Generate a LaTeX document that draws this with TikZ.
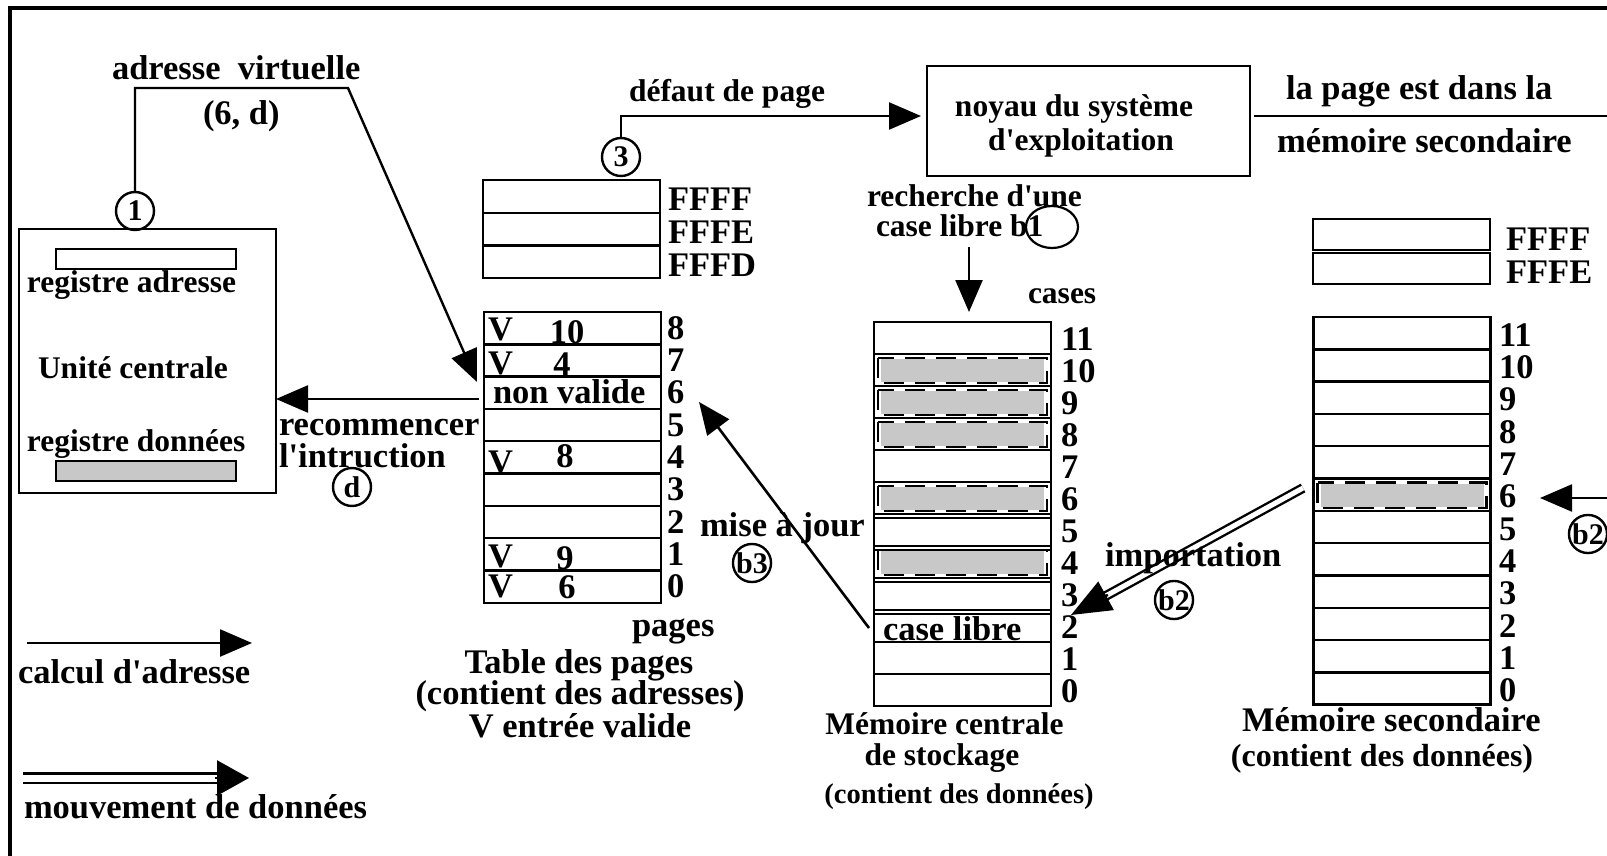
\documentclass[tikz,border=0pt]{standalone}
\usepackage{fontspec}
\setmainfont{Liberation Serif}[Ligatures=TeXOff]
\usetikzlibrary{arrows.meta,calc}

\begin{document}
\begin{tikzpicture}[x=1pt,y=-1pt,line width=2.4pt,
  txtL/.style={font=\fontsize{34.5}{36}\selectfont\bfseries,inner sep=0pt,outer sep=0pt,yshift=-3pt},
  txtM/.style={font=\fontsize{32}{34}\selectfont\bfseries,inner sep=0pt,outer sep=0pt,yshift=-3pt},
  txtS/.style={font=\fontsize{31.5}{33}\selectfont\bfseries,inner sep=0pt,outer sep=0pt,yshift=-3pt},
  txtT/.style={font=\fontsize{28.5}{30}\selectfont\bfseries,inner sep=0pt,outer sep=0pt,yshift=-3pt},
  cell/.style={draw,minimum width=177pt,minimum height=#1,inner sep=0pt,outer sep=0pt},
  cell/.default=32.3pt,
  boxed/.style={draw,inner sep=0pt,outer sep=0pt},
  tag/.style={draw,circle,minimum size=38pt,inner sep=0pt,outer sep=0pt,
    font=\fontsize{30}{30}\selectfont\bfseries},
  arr/.style={-{Triangle[length=32pt,width=27pt]}},
  bigarr/.style={-{Triangle[length=40pt,width=32pt]}},
  dbl/.style={double,double distance=5pt,line width=2.4pt},
  shade/.style={fill={rgb,255:red,200;green,200;blue,200},draw=none},
  dashbox/.style={dash pattern=on 20pt off 11pt,line width=2.4pt}]

\useasboundingbox (0,0) rectangle (1607,856);
\clip (0,0) rectangle (1607,856);

% outer frame, running past the right and bottom edges
\draw[line width=3.5pt] (10,8) rectangle (1660,920);

% ---------------- central processing unit ----------------
\node[boxed,minimum width=257pt,minimum height=264pt] (cpu) at (147.5,361) {};
\node[boxed,minimum width=180pt,minimum height=20pt] (rega) at (146,259) {};
\node[boxed,minimum width=180pt,minimum height=20pt,
  fill={rgb,255:red,200;green,200;blue,200}] (regd) at (146,471) {};
\node[txtS,anchor=base west] (trega) at (27,289) {registre adresse};
\node[txtS,anchor=base west] (tuc) at (38,375) {Unité centrale};
\node[txtS,anchor=base west] (tregd) at (27,448) {registre données};

% ---------------- page table ----------------
\foreach \n/\lab in {0/FFFF,1/FFFE,2/FFFD}{
  \node[cell=32.7pt] (pf\n) at (571.5,{180+32.7*\n+16.35}) {};
  \node[txtL,anchor=base west] (tpf\n) at (668,{208+32.7*\n}) {\lab};
}
\foreach \i in {0,...,8}{
  \node[cell] (pt\i) at (572.5,{312+32.3*(8-\i)+16.15}) {};
  \node[txtL,anchor=base west] (tpt\i) at (667,{312+32.3*(9-\i)-8}) {\i};
}
\node[txtL,anchor=base west] (v8) at (488,337) {V};
\node[txtL,anchor=base] (n8) at (567,340) {10};
\node[txtL,anchor=base west] (v7) at (488,371) {V};
\node[txtL,anchor=base] (n7) at (562,372) {4};
\node[txtL,anchor=base west] (nv6) at (493,400) {non valide};
\node[txtL,anchor=base west] (v4) at (488,470) {V};
\node[txtL,anchor=base] (n4) at (565,464) {8};
\node[txtL,anchor=base west] (v1) at (488,564) {V};
\node[txtL,anchor=base] (n1) at (565,566) {9};
\node[txtL,anchor=base west] (v0) at (488,594) {V};
\node[txtL,anchor=base] (n0) at (567,595) {6};

\node[txtL,anchor=base west] (tpages) at (632,633) {pages};
\node[txtL,anchor=base] (ttable) at (579,670) {Table des pages};
\node[txtL,anchor=base] (tcont) at (580,701) {(contient des adresses)};
\node[txtL,anchor=base] (tvalid) at (580,734) {V entrée valide};

% ---------------- operating system kernel ----------------
\node[boxed,minimum width=323pt,minimum height=110pt] (noyau) at (1088.5,121) {};
\node[txtS,anchor=base] (tnoy1) at (1074,114) {noyau du système};
\node[txtS,anchor=base] (tnoy2) at (1081,147) {d'exploitation};

% ---------------- main memory ----------------
\foreach \i in {0,...,11}{
  \node[cell=32pt] (mc\i) at (962.5,{322+32*(11-\i)+16}) {};
  \node[txtL,anchor=base west] (tmc\i) at (1061,{322+32*(12-\i)-7}) {\i};
}
\foreach \i in {10,9,8,6,4}{
  \fill[shade] ($(mc\i.north west)+(7,5)$) rectangle ($(mc\i.south east)+(-7,-4)$);
  \draw[dashbox] ($(mc\i.north west)+(4,4)$) rectangle ($(mc\i.south east)+(-4,-3)$);
}
\foreach \i in {5,4,3,2}{
  \draw[line width=1.6pt] ($(mc\i.north west)+(0,4)$) -- ($(mc\i.north east)+(0,4)$);
}
\node[txtL,anchor=base west] (tlibre) at (883,637) {case libre};
\node[txtS,anchor=base west] (tcases) at (1028,300) {cases};
\node[txtS,anchor=base] (tmc) at (944.5,731) {Mémoire centrale};
\node[txtS,anchor=base] (tstock) at (942,762) {de stockage};
\node[txtT,anchor=base] (tmcd) at (959,800) {(contient des données)};

% ---------------- secondary memory ----------------
\node[cell=31pt] (sf0) at (1401.5,234.5) {};
\node[cell=31pt] (sf1) at (1401.5,268.5) {};
\node[txtL,anchor=base west] (tsf0) at (1506,247) {FFFF};
\node[txtL,anchor=base west] (tsf1) at (1506,280) {FFFE};
\foreach \i in {0,...,11}{
  \node[cell] (ms\i) at (1402,{317+32.3*(11-\i)+16.15}) {};
  \node[txtL,anchor=base west] (tms\i) at (1499,{317+32.3*(12-\i)-6}) {\i};
}
\fill[shade] ($(ms6.north west)+(7,5)$) rectangle ($(ms6.south east)+(-7,-4)$);
\draw[dashbox] ($(ms6.north west)+(4,4)$) rectangle ($(ms6.south east)+(-4,-3)$);
\node[txtL,anchor=base west] (tms) at (1242,728) {Mémoire secondaire};
\node[txtM,anchor=base] (tmsd) at (1382,763) {(contient des données)};

% ---------------- step markers ----------------
\node[tag] (c1) at (135,211) {1};
\node[tag] (c3) at (621,157) {3};
\node[tag] (cd) at (352,487) {d};
\node[tag] (cb3) at (752,563) {b3};
\node[tag] (cb2) at (1174,600) {b2};
\node[tag] (cb2r) at (1588,534) {b2};
\draw[line width=2.2pt] (1052,227) ellipse [x radius=26pt,y radius=21pt];

% ---------------- connectors ----------------
\coordinate (avbend) at (348,88);
\coordinate (avtip) at (477,382);
\draw[arr] (c1.north) |- (avbend) -- (avtip);
\node[txtL,anchor=base west] (tav) at (112,77) {adresse\ \ virtuelle};
\node[txtL,anchor=base west] (t6d) at (203,122) {(6, d)};

\coordinate (deftip) at ($(noyau.west)+(-6,-5)$);
\draw[arr] (c3.north) |- (deftip);
\node[txtS,anchor=base west] (tdef) at (629,99) {défaut de page};

\coordinate (recstart) at (479,399);
\draw[arr] (recstart) -- (cpu.east |- recstart);
\node[txtL,anchor=base west] (trec) at (279,432) {recommencer};
\node[txtL,anchor=base west] (tint) at (279,464) {l'intruction};

\coordinate (okstart) at ($(noyau.east)+(4,-5)$);
\coordinate (okend) at (1660,116);
\draw (okstart) -- (okend);
\node[txtL,anchor=base west] (tla) at (1286,97) {la page est dans la};
\node[txtL,anchor=base west] (tmem) at (1277,150) {mémoire secondaire};

\coordinate (rstart) at (969,247);
\coordinate (rtip) at (969,312);
\draw[arr] (rstart) -- (rtip);
\node[txtS,anchor=base west] (trech) at (867,203) {recherche d'une};
\node[txtS,anchor=base west] (tcl) at (876,233) {case libre b1};

\coordinate (b3tip) at (699,402);
\draw[arr,line width=2.6pt] ($(mc2.west)+(-5,2)$) -- (b3tip);
\node[txtL,anchor=base west] (tmaj) at (700,533) {mise à jour};

\coordinate (impstart) at (1303,488);
\coordinate (imptip) at (1071,615);
\draw[dbl] (impstart) -- ($(imptip)!30pt!(impstart)$);
\draw[bigarr] ($(imptip)!42pt!(impstart)$) -- (imptip);
\node[txtL,anchor=base west] (timp) at (1105,563) {importation};

\coordinate (rbstart) at (1640,498);
\coordinate (rbtip) at (1540,498);
\draw[arr] (rbstart) -- (rbtip);

% ---------------- legend ----------------
\coordinate (lga) at (27,643);
\coordinate (lgb) at (252,643);
\draw[arr] (lga) -- (lgb);
\node[txtL,anchor=base west] (tcalc) at (18,680) {calcul d'adresse};

\coordinate (lda) at (23,778);
\coordinate (ldb) at (249,778);
\draw[double,double distance=7pt,line width=2.6pt] (lda) -- ($(ldb)!28pt!(lda)$);
\draw[-{Triangle[length=32pt,width=35pt]}] ($(ldb)!34pt!(lda)$) -- (ldb);
\node[txtL,anchor=base west] (tmouv) at (24,815) {mouvement de données};

\end{tikzpicture}
\end{document}
